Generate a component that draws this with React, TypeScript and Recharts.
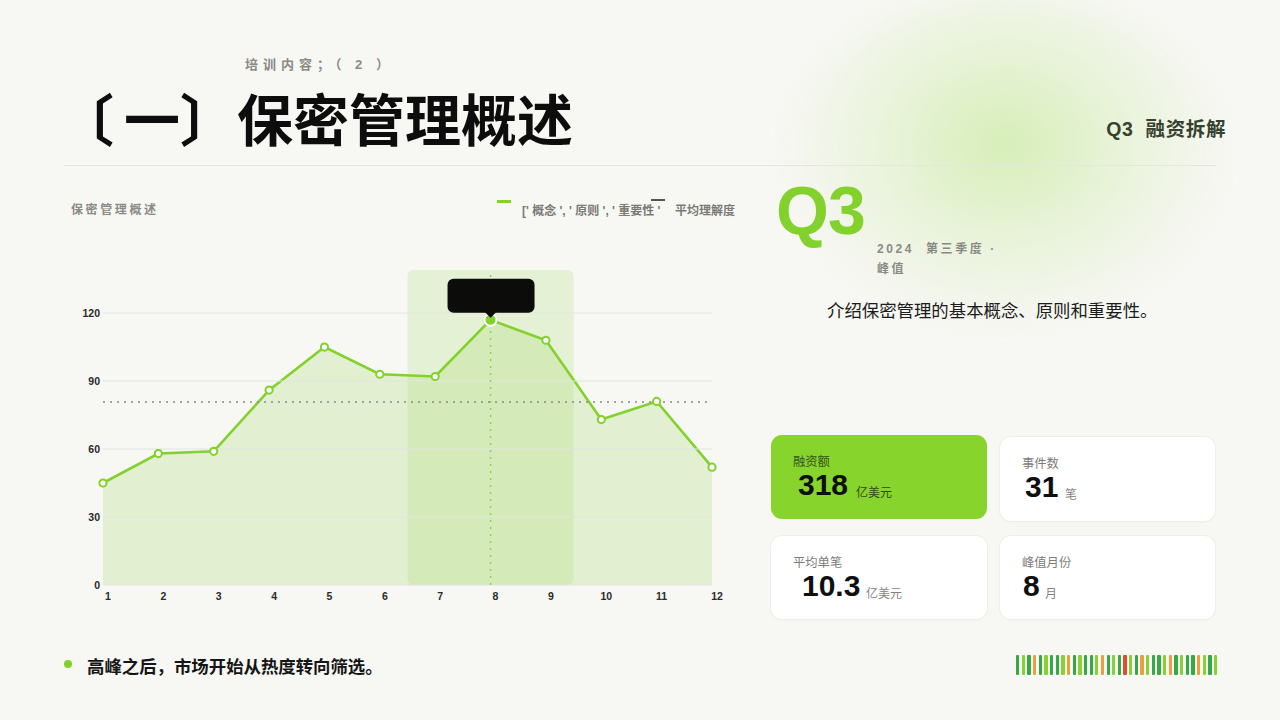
import React from 'react';
import {
  ComposedChart,
  Area,
  XAxis,
  YAxis,
  ReferenceLine,
  ReferenceArea,
} from 'recharts';

// ---------- data ----------
const months = [1, 2, 3, 4, 5, 6, 7, 8, 9, 10, 11, 12];
const understanding = [45, 58, 59, 86, 105, 93, 92, 117, 108, 73, 81, 52];
const yTicks = [0, 30, 60, 90, 120];
const xTicks = [1, 2, 3, 4, 5, 6, 7, 8, 9, 10, 11, 12];
const highlightFrom = 6.5;
const highlightTo = 9.5;
const seriesLabel = "[' 概念 ', ' 原则 ', ' 重要性 '";
const avgLabel = '平均理解度';

const kpiLabels = ['融资额', '事件数', '平均单笔', '峰值月份'];
const kpiValues = ['318', '31', '10.3', '8'];
const kpiUnits = ['亿美元', '笔', '亿美元', '月'];

const barcodeKinds = 'dldodlddlodlddlodldrldolddlodlddoldl'.split('');

// ---------- styles ----------
const GREEN = '#82d12c';
const BG = '#f7f7f3';
const CJK = '"Liberation Sans", "Noto Sans CJK SC", sans-serif';

const chartData = months.map((m, i) => ({ month: m, value: understanding[i] }));
const avg = understanding.reduce((a, b) => a + b, 0) / understanding.length;
const peakIdx = understanding.indexOf(Math.max(...understanding));

const barColors: Record<string, string> = {
  d: '#37a847',
  l: '#88d034',
  o: '#eaa03e',
  r: '#e04a3b',
};

// KPI layout (positions only)
const kpiBoxes = [
  { x: 771, y: 435, w: 216, h: 84, vx: 27, ux: 85 },
  { x: 1000, y: 437, w: 215, h: 84, vx: 25, ux: 65 },
  { x: 771, y: 536, w: 216, h: 83, vx: 31, ux: 95 },
  { x: 1000, y: 536, w: 215, h: 83, vx: 23, ux: 45 },
];

const renderDot = (props: any) => {
  const { cx, cy, index } = props;
  if (cx == null || cy == null) return <g key={`d-${index}`} />;
  if (index === peakIdx) {
    return (
      <g key={`d-${index}`}>
        <circle cx={cx} cy={cy} r={6} fill={GREEN} stroke="#ffffff" strokeWidth={2} />
        <rect x={cx - 43} y={cy - 41} width={87} height={34} rx={6} fill="#0c0d0a" />
        <path d={`M${cx - 6},${cy - 8} L${cx + 6},${cy - 8} L${cx},${cy - 2} Z`} fill="#0c0d0a" />
      </g>
    );
  }
  return (
    <circle key={`d-${index}`} cx={cx} cy={cy} r={3.6} fill="#ffffff" stroke={GREEN} strokeWidth={2} />
  );
};

const XTick = (props: any) => {
  const { x, y, payload } = props;
  return (
    <text
      x={x + 5}
      y={y + 4}
      textAnchor="middle"
      fontSize={10.5}
      fontWeight={700}
      fill="#2a2a2a"
      fontFamily='"Liberation Sans", Arial, sans-serif'
    >
      {payload.value}
    </text>
  );
};

const YTick = (props: any) => {
  const { x, y, payload } = props;
  return (
    <text
      x={x}
      y={y + 4}
      textAnchor="end"
      fontSize={10.5}
      fontWeight={700}
      fill="#2a2a2a"
      fontFamily='"Liberation Sans", Arial, sans-serif'
    >
      {payload.value}
    </text>
  );
};

const HighlightShape = (p: any) => (
  <rect x={p.x} y={p.y} width={p.width} height={p.height} rx={6} fill="#a9dc72" fillOpacity={0.24} />
);

function Chart() {
  return (
    <div style={{ position: 'absolute', left: 0, top: 0 }}>
      <ComposedChart
        width={760}
        height={620}
        data={chartData}
        margin={{ top: 270, right: 48, bottom: 5, left: 63 }}
      >
        {yTicks.map((t) => (
          <ReferenceLine key={`g-${t}`} y={t} stroke="#e3e5df" strokeWidth={1} />
        ))}
        <ReferenceArea x1={highlightFrom} x2={highlightTo} shape={HighlightShape} />
        <XAxis
          dataKey="month"
          type="number"
          domain={[1, 12]}
          ticks={xTicks}
          axisLine={false}
          tickLine={false}
          tickSize={0}
          tickMargin={11}
          height={30}
          tick={<XTick />}
          interval={0}
        />
        <YAxis
          domain={[0, 139]}
          ticks={yTicks}
          axisLine={false}
          tickLine={false}
          tickSize={0}
          tickMargin={3}
          width={40}
          tick={<YTick />}
          allowDataOverflow
        />
        <ReferenceLine
          x={months[peakIdx]}
          stroke="#8fd14f"
          strokeWidth={1.5}
          strokeDasharray="2 5"
        />
        <ReferenceLine y={avg} stroke="#8a8a86" strokeWidth={1.5} strokeDasharray="2 5" />
        <Area
          type="linear"
          dataKey="value"
          stroke={GREEN}
          strokeWidth={2.6}
          fill="#9ad45a"
          fillOpacity={0.22}
          dot={renderDot}
          activeDot={false}
          isAnimationActive={false}
        />
      </ComposedChart>
    </div>
  );
}

export default function App() {
  return (
    <div
      style={{
        position: 'absolute',
        left: 0,
        top: 0,
        width: 1280,
        height: 720,
        background: BG,
        overflow: 'hidden',
        fontFamily: CJK,
      }}
    >
      {/* glow */}
      <div
        style={{
          position: 'absolute',
          left: 785,
          top: -5,
          width: 440,
          height: 330,
          borderRadius: '50%',
          background:
            'radial-gradient(ellipse at 50% 45%, rgba(200,234,156,0.7) 0%, rgba(216,239,188,0.45) 38%, rgba(247,247,243,0) 72%)',
          filter: 'blur(12px)',
        }}
      />

      {/* header */}
      <div
        style={{
          position: 'absolute',
          left: 245,
          top: 56,
          fontSize: 13,
          fontWeight: 700,
          color: '#8a8a86',
          letterSpacing: 5,
          whiteSpace: 'pre',
          lineHeight: '18px',
        }}
      >
        {'培训内容；（ 2 ）'}
      </div>
      <div
        style={{
          position: 'absolute',
          left: 58,
          top: 89,
          fontSize: 56,
          lineHeight: '56px',
          fontWeight: 700,
          color: '#0d0d0d',
          fontFamily: '"Noto Sans CJK SC", sans-serif',
          whiteSpace: 'nowrap',
        }}
      >
        <span>〔</span>
        <span style={{ marginLeft: 10 }}>一〕</span>
        <span style={{ marginLeft: 1 }}>保密管理概述</span>
      </div>
      <div
        style={{
          position: 'absolute',
          right: 54,
          top: 116,
          fontSize: 19.5,
          lineHeight: '26px',
          fontWeight: 700,
          color: '#34422f',
          letterSpacing: 0.6,
          whiteSpace: 'pre',
        }}
      >
        {'Q3  融资拆解'}
      </div>
      <div style={{ position: 'absolute', left: 64, top: 165, width: 1152, height: 1, background: '#e4e6e0' }} />

      {/* chart title & legend */}
      <div
        style={{
          position: 'absolute',
          left: 71,
          top: 202,
          fontSize: 12,
          fontWeight: 700,
          color: '#8a8a86',
          letterSpacing: 2.6,
          lineHeight: '16px',
          whiteSpace: 'nowrap',
        }}
      >
        保密管理概述
      </div>
      <div style={{ position: 'absolute', left: 497, top: 200, width: 14, height: 3, background: GREEN }} />
      <div
        style={{
          position: 'absolute',
          left: 522,
          top: 203,
          fontSize: 12,
          fontWeight: 700,
          color: '#7a7a76',
          lineHeight: '16px',
          whiteSpace: 'pre',
        }}
      >
        {seriesLabel}
      </div>
      <div style={{ position: 'absolute', left: 651, top: 199, width: 14, height: 2, background: '#55554f' }} />
      <div
        style={{
          position: 'absolute',
          left: 675,
          top: 203,
          fontSize: 12,
          fontWeight: 700,
          color: '#7a7a76',
          lineHeight: '16px',
          whiteSpace: 'nowrap',
        }}
      >
        {avgLabel}
      </div>

      <Chart />

      {/* Q3 block */}
      <div
        style={{
          position: 'absolute',
          left: 776,
          top: 165,
          fontSize: 68,
          lineHeight: '90px',
          fontWeight: 700,
          color: GREEN,
          fontFamily: '"Liberation Sans", Arial, sans-serif',
          letterSpacing: -1,
        }}
      >
        Q3
      </div>
      <div
        style={{
          position: 'absolute',
          left: 877,
          top: 240,
          fontSize: 12,
          fontWeight: 700,
          color: '#8a8a86',
          letterSpacing: 2.6,
          lineHeight: '19.5px',
          whiteSpace: 'pre',
        }}
      >
        {'2024  第三季度 ·'}
        <br />
        {'峰值'}
      </div>
      <div
        style={{
          position: 'absolute',
          left: 827,
          top: 298,
          fontSize: 17.4,
          lineHeight: '24px',
          color: '#1c1c1c',
          whiteSpace: 'nowrap',
          fontFamily: '"Noto Sans CJK SC", sans-serif',
        }}
      >
        介绍保密管理的基本概念、原则和重要性。
      </div>

      {/* KPI cards */}
      {kpiBoxes.map((b, i) => {
        const hi = i === 0;
        return (
          <div
            key={i}
            style={{
              position: 'absolute',
              left: b.x,
              top: b.y,
              width: b.w,
              height: b.h,
              borderRadius: 11,
              background: hi ? '#86d42c' : '#ffffff',
              boxShadow: hi ? 'none' : '0 0 0 1px #eeeeea, 0 1px 3px rgba(0,0,0,0.04)',
            }}
          >
            <div
              style={{
                position: 'absolute',
                left: 22,
                top: 17,
                fontSize: 12.3,
                lineHeight: '18px',
                color: hi ? '#34521c' : '#7d7d79',
                whiteSpace: 'nowrap',
                fontFamily: '"Noto Sans CJK SC", sans-serif',
              }}
            >
              {kpiLabels[i]}
            </div>
            <div
              style={{
                position: 'absolute',
                left: b.vx,
                top: 32,
                fontSize: 30,
                lineHeight: '36px',
                fontWeight: 700,
                color: '#0f0f0f',
                fontFamily: '"Liberation Sans", Arial, sans-serif',
                whiteSpace: 'nowrap',
              }}
            >
              {kpiValues[i]}
            </div>
            <div
              style={{
                position: 'absolute',
                left: b.ux,
                top: 49,
                fontSize: 12,
                lineHeight: '16px',
                color: hi ? '#2f4a18' : '#86867f',
                whiteSpace: 'nowrap',
                fontFamily: '"Noto Sans CJK SC", sans-serif',
              }}
            >
              {kpiUnits[i]}
            </div>
          </div>
        );
      })}

      {/* barcode strip */}
      <div style={{ position: 'absolute', left: 1016, top: 655, height: 20, display: 'flex' }}>
        {barcodeKinds.map((k, i) => (
          <div
            key={i}
            style={{
              width: 3.3,
              height: 20,
              marginRight: 2.37,
              borderRadius: 1,
              background: barColors[k],
            }}
          />
        ))}
      </div>

      {/* bottom takeaway */}
      <div
        style={{
          position: 'absolute',
          left: 64,
          top: 660,
          width: 8,
          height: 8,
          borderRadius: 4,
          background: GREEN,
        }}
      />
      <div
        style={{
          position: 'absolute',
          left: 87,
          top: 653,
          fontSize: 17.4,
          lineHeight: '26px',
          fontWeight: 700,
          color: '#161616',
          whiteSpace: 'nowrap',
          fontFamily: '"Noto Sans CJK SC", sans-serif',
        }}
      >
        高峰之后，市场开始从热度转向筛选。
      </div>
    </div>
  );
}
